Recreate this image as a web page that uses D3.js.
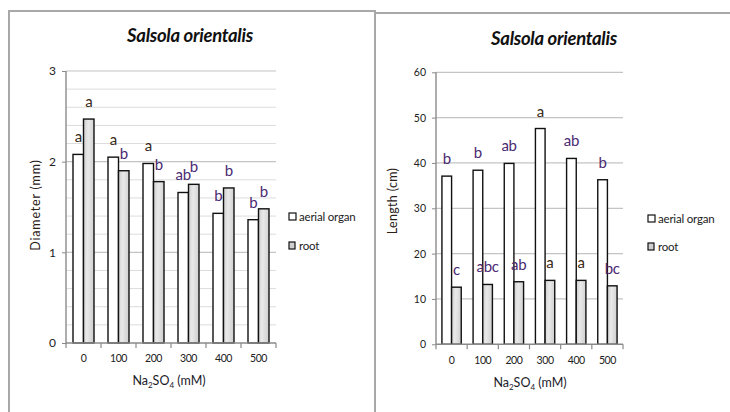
<!DOCTYPE html>
<html><head><meta charset="utf-8">
<script src="https://cdn.jsdelivr.net/npm/d3@7"></script>
<style>body{margin:0;background:#fff}svg{display:block;font-family:Lato,"Open Sans",sans-serif}</style>
</head><body><svg id="c" width="730" height="412"></svg>
<script>
const categories = ["0","100","200","300","400","500"];
const seriesNames = ["aerial organ","root"];
// Left chart: diameter (mm)
const diamAerial = [2.08, 2.05, 1.98, 1.66, 1.43, 1.36];
const diamRoot   = [2.47, 1.90, 1.78, 1.75, 1.71, 1.48];
const diamAerialLetters = ["a","a","a","ab","b","b"];
const diamRootLetters   = ["a","b","b","b","b","b"];
const diamTicks = [0,1,2,3];
// Right chart: length (cm)
const lenAerial = [37.1, 38.4, 39.9, 47.6, 41.0, 36.3];
const lenRoot   = [12.6, 13.2, 13.8, 14.1, 14.1, 12.9];
const lenAerialLetters = ["b","b","ab","a","ab","b"];
const lenRootLetters   = ["c","abc","ab","a","a","bc"];
const lenTicks = [0,10,20,30,40,50,60];

const svg = d3.select("#c");
const defs = svg.append("defs");
const g = defs.append("linearGradient").attr("id","gr").attr("x1","0").attr("x2","1").attr("y1","0").attr("y2","0.15");
g.append("stop").attr("offset","0").attr("stop-color","#cdcdcd");
g.append("stop").attr("offset","0.45").attr("stop-color","#e9e9e9");
g.append("stop").attr("offset","1").attr("stop-color","#d2d2d2");

// panel borders
svg.append("path").attr("d","M9,420 V11 H375 V420").attr("fill","none").attr("stroke","#a8a8a8").attr("stroke-width",2);
svg.append("path").attr("d","M375,13 H731").attr("fill","none").attr("stroke","#a8a8a8").attr("stroke-width",2);

function letterColor(s){ return s==="a" ? "#3a2a18" : "#4a2a72"; }

function chart(o){
  const y = d3.scaleLinear().domain(o.domain).range([o.y0,o.y1]);
  const x = d3.scaleBand().domain(categories).range([o.x0,o.x1]);
  const step = x.bandwidth();
  const bw = step*o.barFrac;
  const root = svg.append("g");
  // gridlines
  if(o.minor){
    root.append("g").selectAll("line").data(o.minor).join("line")
      .attr("x1",o.x0).attr("x2",o.x1).attr("y1",d=>y(d)).attr("y2",d=>y(d))
      .attr("stroke","#dcdcdc").attr("stroke-width",1);
  }
  root.append("g").selectAll("line").data(o.ticks.filter(d=>d>0)).join("line")
    .attr("x1",o.x0).attr("x2",o.x1).attr("y1",d=>y(d)).attr("y2",d=>y(d))
    .attr("stroke","#c4c4c4").attr("stroke-width",1.2);
  // bars
  const sets = [{v:o.a, fill:"#fff", off:0, lab:o.aL},{v:o.r, fill:"url(#gr)", off:1, lab:o.rL}];
  sets.forEach(s=>{
    root.append("g").selectAll("rect").data(categories).join("rect")
      .attr("x",(c)=>x(c)+step/2-bw+s.off*bw).attr("width",bw)
      .attr("y",(c,i)=>y(s.v[i])).attr("height",(c,i)=>y(0)-y(s.v[i]))
      .attr("fill",s.fill).attr("stroke","#111").attr("stroke-width",1.4);
    root.append("g").selectAll("text").data(categories).join("text")
      .attr("x",(c)=>x(c)+step/2-bw/2+s.off*bw)
      .attr("y",(c,i)=>y(s.v[i])-12)
      .attr("text-anchor","middle").attr("font-size",15).attr("letter-spacing",-0.3)
      .attr("fill",(c,i)=>letterColor(s.lab[i]))
      .text((c,i)=>s.lab[i]);
  });
  // y axis
  const ya = root.append("g").attr("transform",`translate(${o.x0},0)`)
    .call(d3.axisLeft(y).tickValues(o.ticks).tickSize(4).tickPadding(6).tickFormat(d3.format("d")));
  ya.select(".domain").attr("stroke","#8a8a8a").attr("stroke-width",1.4).attr("d",`M0,${o.y0}V${o.y1}`);
  ya.selectAll(".tick line").attr("stroke","#8a8a8a");
  ya.selectAll(".tick text").attr("font-family","Lato").attr("font-size",o.yfs).attr("fill","#222");
  // x axis
  const xa = root.append("g").attr("transform",`translate(0,${o.y0})`)
    .call(d3.axisBottom(x).tickSize(0).tickPadding(12));
  xa.select(".domain").attr("stroke","#8a8a8a").attr("stroke-width",1.4).attr("d",`M${o.x0},0H${o.x1}`);
  xa.selectAll(".tick text").attr("font-family","Lato").attr("font-size",10.5).attr("fill","#222").attr("letter-spacing",-0.4);
  xa.append("g").selectAll("line").data(d3.range(categories.length+1)).join("line")
    .attr("x1",d=>o.x0+d*step).attr("x2",d=>o.x0+d*step).attr("y1",0).attr("y2",5)
    .attr("stroke","#8a8a8a").attr("stroke-width",1.2);
  // title
  root.append("text").attr("x",o.tx).attr("y",o.ty).attr("text-anchor","middle")
    .attr("font-size",18.5).attr("font-weight","bold").attr("font-style","italic").attr("fill","#111")
    .attr("letter-spacing",-0.3).text("Salsola orientalis");
  // y title
  root.append("text").attr("transform",`translate(${o.ytx},${o.yty}) rotate(-90)`)
    .attr("text-anchor","middle").attr("font-size",12.5).attr("fill","#2a2018").attr("letter-spacing",o.yls)
    .text(o.ytitle);
  // x title
  const xt = root.append("text").attr("x",o.xtx).attr("y",o.xty).attr("text-anchor","middle")
    .attr("font-size",12.5).attr("fill","#1a1a2a");
  xt.append("tspan").text("Na");
  xt.append("tspan").attr("font-size",8).attr("dy",3).text("2");
  xt.append("tspan").attr("dy",-3).text("SO");
  xt.append("tspan").attr("font-size",8).attr("dy",3).text("4");
  xt.append("tspan").attr("dy",-3).text(" (mM)");
  // legend
  const lg = root.append("g").attr("transform",`translate(${o.lx},${o.ly})`);
  seriesNames.forEach((n,i)=>{
    lg.append("rect").attr("x",0).attr("y",i*o.lgap-4).attr("width",i?6:7).attr("height",7)
      .attr("fill",i?"#cfcfcf":"#fff").attr("stroke","#111").attr("stroke-width",1.2);
    lg.append("text").attr("x",10).attr("y",i*o.lgap+4).attr("font-size",11.5).attr("fill","#222")
      .attr("letter-spacing",-0.2).text(n);
  });
}

chart({domain:[0,3], y0:343, y1:71, x0:66, x1:276, barFrac:0.3,
  a:diamAerial, r:diamRoot, aL:diamAerialLetters, rL:diamRootLetters,
  ticks:diamTicks, minor:d3.range(0.2,3,0.2).filter(v=>Math.abs(v-Math.round(v))>0.01), yfs:12,
  tx:190, ty:42, ytitle:"Diameter (mm)", ytx:40, yty:205, yls:0.8,
  xtx:169, xty:385, lx:289, ly:217, lgap:29});

chart({domain:[0,60], y0:344.3, y1:72.3, x0:436, x1:623, barFrac:0.31,
  a:lenAerial, r:lenRoot, aL:lenAerialLetters, rL:lenRootLetters,
  ticks:lenTicks, minor:null, yfs:10.5,
  tx:554, ty:45, ytitle:"Length (cm)", ytx:397, yty:201, yls:0.3,
  xtx:530, xty:387, lx:648, ly:219, lgap:28});
</script></body></html>
